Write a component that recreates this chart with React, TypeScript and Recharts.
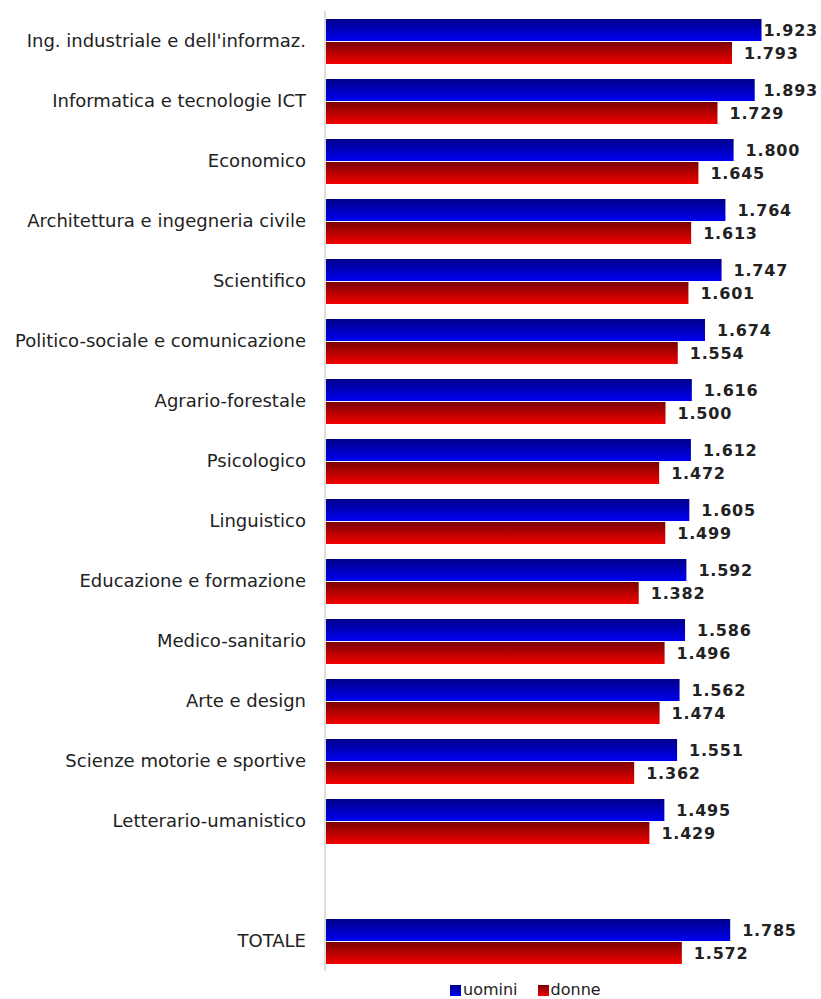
import { BarChart, Bar, XAxis, YAxis, LabelList } from 'recharts'

const categories = [
  "Ing. industriale e dell'informaz.",
  'Informatica e tecnologie ICT',
  'Economico',
  'Architettura e ingegneria civile',
  'Scientifico',
  'Politico-sociale e comunicazione',
  'Agrario-forestale',
  'Psicologico',
  'Linguistico',
  'Educazione e formazione',
  'Medico-sanitario',
  'Arte e design',
  'Scienze motorie e sportive',
  'Letterario-umanistico',
  '',
  'TOTALE',
]

const uomini = [1923, 1893, 1800, 1764, 1747, 1674, 1616, 1612, 1605, 1592, 1586, 1562, 1551, 1495, null, 1785]
const donne = [1793, 1729, 1645, 1613, 1601, 1554, 1500, 1472, 1499, 1382, 1496, 1474, 1362, 1429, null, 1572]

const seriesNames = ['uomini', 'donne']

const data = categories.map((name, i) => ({ name, uomini: uomini[i], donne: donne[i] }))

const W = 821
const H = 999
const FONT = "'DejaVu Sans', sans-serif"

const fmt = (v: number) => {
  const k = Math.floor(v / 1000)
  const r = String(v % 1000).padStart(3, '0')
  return `${k}.${r}`
}

const ValueLabel = (props: any) => {
  const { x, y, width, height, value } = props
  if (value == null) return null
  const text = fmt(value)
  let tx = x + width + 12
  let anchor: 'start' | 'end' = 'start'
  if (tx + 55 > W - 2) {
    tx = W - 3
    anchor = 'end'
  }
  return (
    <text
      x={tx}
      y={y + height / 2}
      dy="0.36em"
      textAnchor={anchor}
      fill="#222"
      fontSize={16}
      fontWeight="bold"
      letterSpacing={0.8}
      fontFamily={FONT}
    >
      {text}
    </text>
  )
}

const swatches = ['linear-gradient(#00008a, #0000f0)', 'linear-gradient(#7a0000, #f00000)']

export default function App() {
  return (
    <div style={{ position: 'absolute', left: 0, top: 0, width: W, height: H, background: '#fff' }}>
      <BarChart
        width={W}
        height={H}
        data={data}
        layout="vertical"
        margin={{ top: 11, right: 42, bottom: 28, left: 0 }}
        barSize={22}
        barGap={1}
      >
        <defs>
          <linearGradient id="gBlue" x1="0" y1="0" x2="0" y2="1">
            <stop offset="0%" stopColor="#00008a" />
            <stop offset="100%" stopColor="#0000f2" />
          </linearGradient>
          <linearGradient id="gRed" x1="0" y1="0" x2="0" y2="1">
            <stop offset="0%" stopColor="#7a0000" />
            <stop offset="100%" stopColor="#f20000" />
          </linearGradient>
        </defs>
        <XAxis type="number" domain={[0, 2000]} hide />
        <YAxis
          type="category"
          dataKey="name"
          width={325}
          tickSize={0}
          tickMargin={19}
          axisLine={{ stroke: '#dcdcdc', strokeWidth: 2 }}
          tickLine={false}
          interval={0}
          tick={{ fill: '#222', fontSize: 18, fontFamily: FONT }}
        />
        <Bar dataKey="uomini" name="uomini" fill="url(#gBlue)" isAnimationActive={false}>
          <LabelList dataKey="uomini" content={<ValueLabel />} />
        </Bar>
        <Bar dataKey="donne" name="donne" fill="url(#gRed)" isAnimationActive={false}>
          <LabelList dataKey="donne" content={<ValueLabel />} />
        </Bar>
      </BarChart>
      <div
        style={{
          position: 'absolute',
          left: 450,
          top: 981,
          display: 'flex',
          gap: 20,
          fontFamily: FONT,
          fontSize: 16,
          color: '#222',
          lineHeight: '18px',
        }}
      >
        {seriesNames.map((s, i) => (
          <span key={s} style={{ display: 'flex', alignItems: 'center' }}>
            <span style={{ width: 11, height: 11, background: swatches[i], marginRight: 2 }} />
            {s}
          </span>
        ))}
      </div>
    </div>
  )
}
